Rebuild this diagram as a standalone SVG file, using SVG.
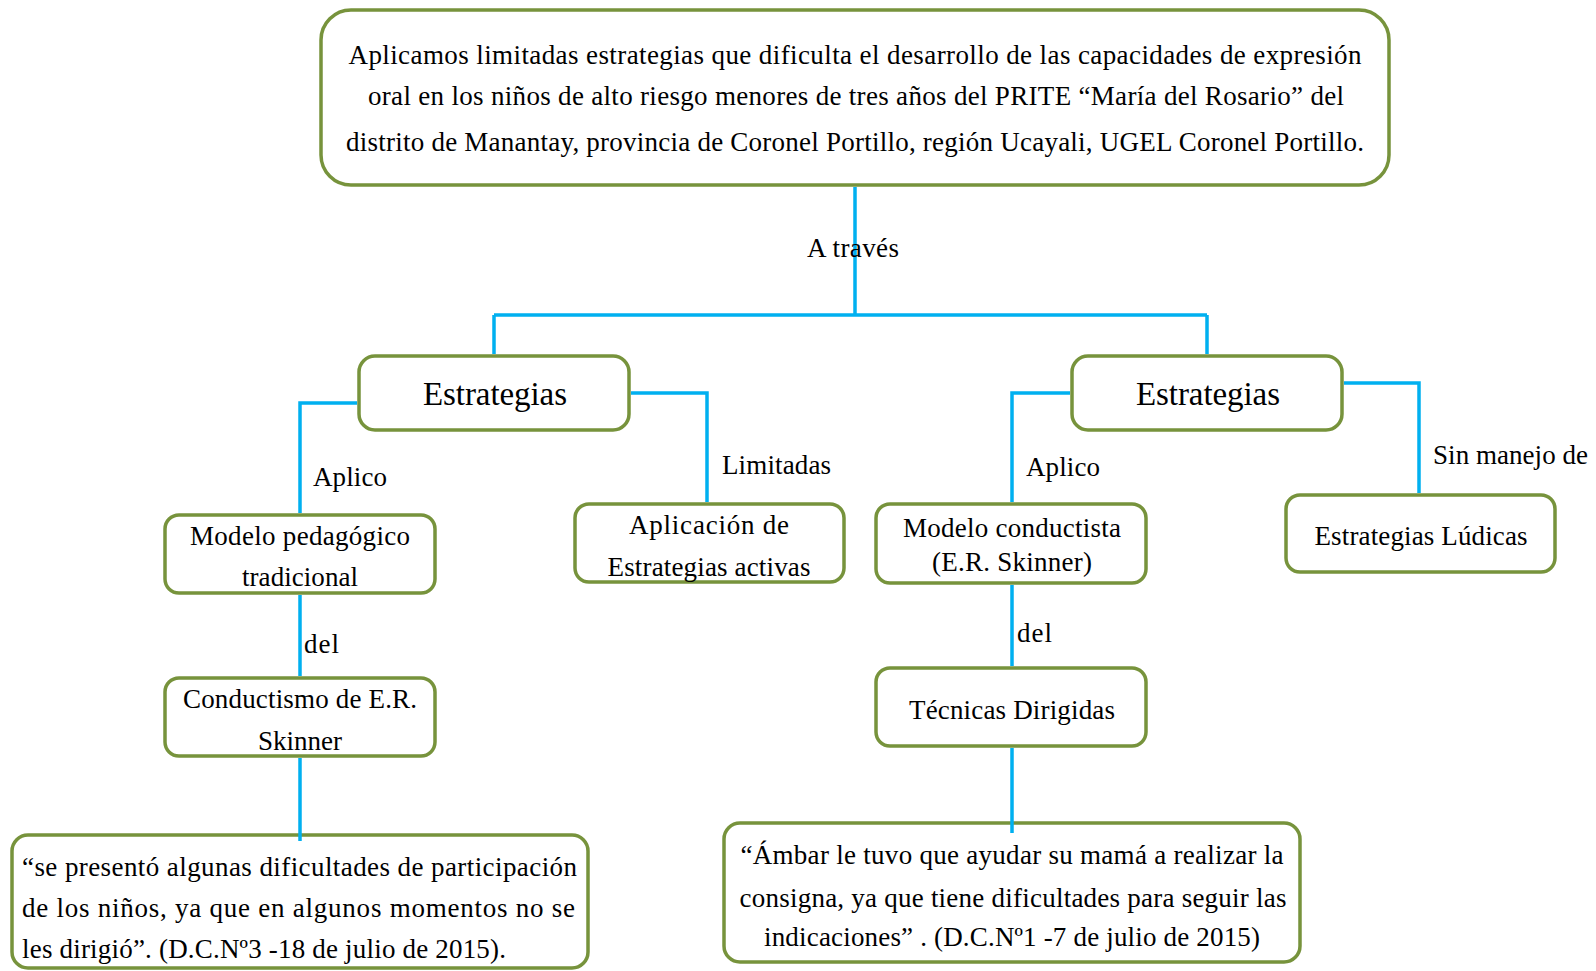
<svg xmlns="http://www.w3.org/2000/svg" width="1596" height="971" viewBox="0 0 1596 971">
<style>
.box{fill:#fff;stroke:#77933C;stroke-width:3.5}
.con{fill:none;stroke:#00B0F0;stroke-width:3.5}
text{font-family:"Liberation Serif","Times New Roman",serif;font-size:27px;fill:#000}
.c{text-anchor:middle}
.big{font-size:33px}
</style>
<rect width="1596" height="971" fill="#fff"/>
<g id="top">
<rect class="box" x="321" y="10" width="1068" height="175" rx="30"/>
<text class="c" x="855" y="64" textLength="1013">Aplicamos limitadas estrategias  que  dificulta el desarrollo de las capacidades  de expresión</text>
<text class="c" x="856" y="105" textLength="976">oral en los niños de alto riesgo menores de tres años del PRITE “María del Rosario”  del</text>
<text class="c" x="855" y="151" textLength="1018">distrito de Manantay, provincia de Coronel Portillo, región Ucayali, UGEL Coronel Portillo.</text>
</g>
<g id="estrategias-left">
<rect class="box" x="359" y="356" width="270" height="74" rx="16"/>
<text class="c big" x="495" y="405" textLength="144">Estrategias</text>
</g>
<g id="estrategias-right">
<rect class="box" x="1072" y="356" width="270" height="74" rx="16"/>
<text class="c big" x="1208" y="405" textLength="144">Estrategias</text>
</g>
<g id="modelo-pedagogico">
<rect class="box" x="165" y="515" width="270" height="78" rx="14"/>
<text class="c" x="300" y="545" textLength="220">Modelo pedagógico</text>
<text class="c" x="300" y="586" textLength="116">tradicional</text>
</g>
<g id="aplicacion">
<rect class="box" x="575" y="504" width="269" height="78" rx="14"/>
<text class="c" x="709" y="534" textLength="160">Aplicación  de</text>
<text class="c" x="709" y="576" textLength="203">Estrategias activas</text>
</g>
<g id="conductismo">
<rect class="box" x="165" y="678" width="270" height="78" rx="14"/>
<text class="c" x="300" y="708" textLength="234">Conductismo de E.R.</text>
<text class="c" x="300" y="750" textLength="84">Skinner</text>
</g>
<g id="cita-izq">
<rect class="box" x="12" y="835" width="576" height="133" rx="16"/>
<text x="22" y="876" textLength="555">“se presentó algunas dificultades de participación</text>
<text x="22" y="917" textLength="553">de los niños, ya que en algunos momentos no se</text>
<text x="22" y="958" textLength="484">les dirigió”. (D.C.Nº3 -18 de julio de 2015).</text>
</g>
<g id="modelo-conductista">
<rect class="box" x="876" y="504" width="270" height="79" rx="14"/>
<text class="c" x="1012" y="537" textLength="218">Modelo conductista</text>
<text class="c" x="1012" y="571" textLength="160">(E.R. Skinner)</text>
</g>
<g id="ludicas">
<rect class="box" x="1286" y="495" width="269" height="77" rx="14"/>
<text class="c" x="1421" y="545" textLength="213">Estrategias Lúdicas</text>
</g>
<g id="tecnicas">
<rect class="box" x="876" y="668" width="270" height="78" rx="14"/>
<text class="c" x="1012" y="719" textLength="206">Técnicas Dirigidas</text>
</g>
<g id="cita-der">
<rect class="box" x="724" y="823" width="576" height="139" rx="16"/>
<text class="c" x="1012" y="864" textLength="543">“Ámbar le tuvo que ayudar su mamá a realizar la</text>
<text class="c" x="1013" y="907" textLength="547">consigna, ya que tiene dificultades para seguir las</text>
<text class="c" x="1012" y="946" textLength="496">indicaciones” . (D.C.Nº1 -7 de julio de 2015)</text>
</g>
<g id="connectors">
<path class="con" d="M855 187V315M494 315H1207M494 315V354M1207 315V354"/>
<path class="con" d="M357 403H300V513M631 393H707V502M300 595V676M300 758V841"/>
<path class="con" d="M1070 393H1012V502M1344 383H1419V493M1012 585V666M1012 748V833"/>
<text x="807" y="257" textLength="92">A través</text>
<text x="313" y="486" textLength="74">Aplico</text>
<text x="722" y="474" textLength="109">Limitadas</text>
<text x="304" y="653" textLength="35">del</text>
<text x="1026" y="476" textLength="74">Aplico</text>
<text x="1433" y="464" textLength="155">Sin manejo de</text>
<text x="1017" y="642" textLength="35">del</text>
</g>
</svg>
